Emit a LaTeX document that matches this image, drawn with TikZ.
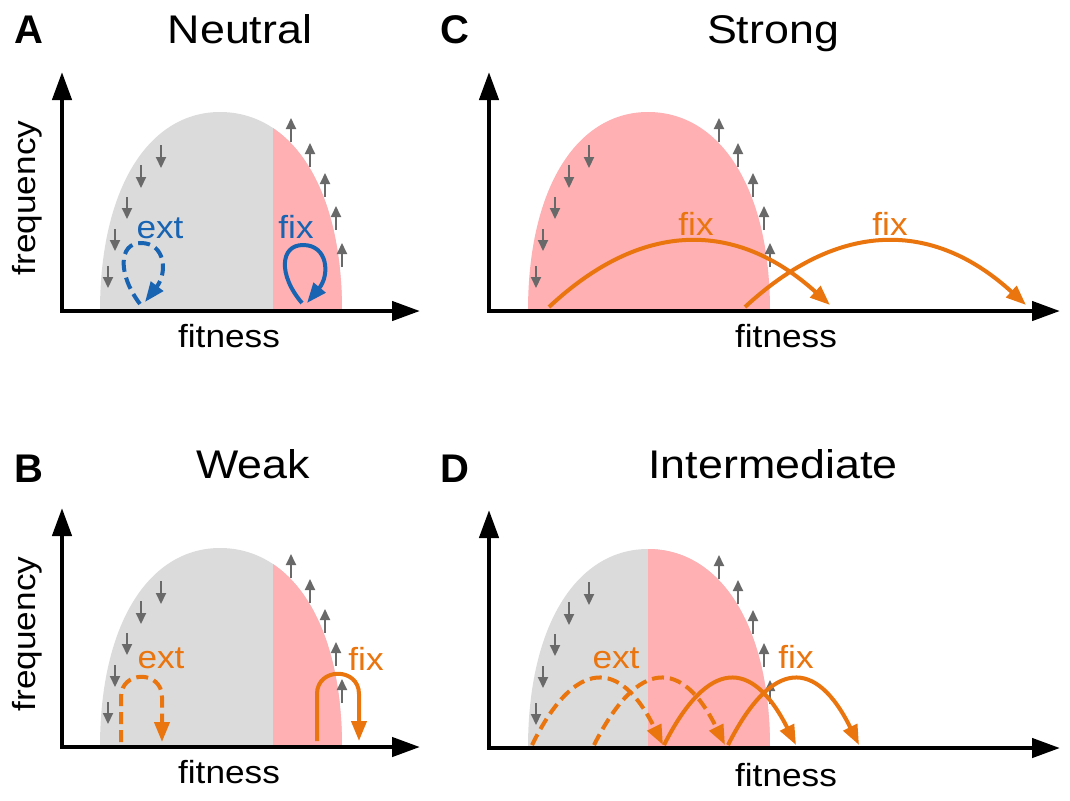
\documentclass[tikz,border=0pt]{standalone}
\usepackage{fontspec}
\setmainfont{Liberation Sans}
\usepackage{graphicx}
\usetikzlibrary{arrows.meta}
\definecolor{distgrey}{RGB}{219,219,219}
\definecolor{distpink}{RGB}{254,176,179}
\definecolor{fixblue}{RGB}{24,99,178}
\definecolor{fixorange}{RGB}{234,116,14}
\definecolor{arrgrey}{RGB}{105,105,105}
\newcommand\wtitle[1]{\scalebox{1.12}[1]{#1}}
\newcommand\wlab[1]{\scalebox{1.1}[1]{#1}}
\newcommand\distpath{(100,311) .. controls (100,186) and (150,112) .. (220,112) .. controls (291,112) and (342,186) .. (342,311) -- cycle}
\tikzset{
  axisline/.style={line width=2.2pt, line join=miter, {Triangle[length=14pt,width=9.5pt]}-{Triangle[length=14pt,width=9.5pt]}},
  smallarr/.style={arrgrey, line width=1pt, -{Triangle[length=5.5pt,width=5pt]}},
  blueloop/.style={fixblue, line width=2pt, -{Triangle[length=10pt,width=7.5pt]}},
  orarc/.style={fixorange, line width=2pt, -{Triangle[length=10pt,width=7.5pt]}},
  dasharc/.style={dash pattern=on 6pt off 3pt},
  titletext/.style={font=\fontsize{20}{24}\selectfont, anchor=base, inner sep=0pt},
  lettertext/.style={font=\fontsize{20}{24}\selectfont\bfseries, anchor=base, inner sep=0pt},
  axlabel/.style={font=\fontsize{16}{20}\selectfont, anchor=base, inner sep=0pt},
  arclabel/.style={font=\fontsize{16}{20}\selectfont, anchor=base, inner sep=0pt},
}
\begin{document}
\begin{tikzpicture}[x=0.5pt,y=-0.5pt]
\useasboundingbox (0,0) rectangle (1070,800);

% ---------- distributions and small arrows ----------
% A
\begin{scope}
  \fill[distgrey] \distpath;
  \begin{scope}\clip (273,0) rectangle (400,400); \fill[distpink] \distpath; \end{scope}
  \foreach \x/\a/\b in {161/145/168, 141/165/188, 127/197/219, 115/229/251, 108/266/288}
    \draw[smallarr] (\x,\a) -- (\x,\b);
  \foreach \x/\a/\b in {291/142/118, 310/167/143, 325/197/173, 336/230/206, 342/267/243}
    \draw[smallarr] (\x,\a) -- (\x,\b);
\end{scope}
% B
\begin{scope}[shift={(0,436)}]
  \fill[distgrey] \distpath;
  \begin{scope}\clip (273,0) rectangle (400,400); \fill[distpink] \distpath; \end{scope}
  \foreach \x/\a/\b in {161/145/168, 141/165/188, 127/197/219, 115/229/251, 108/266/288}
    \draw[smallarr] (\x,\a) -- (\x,\b);
  \foreach \x/\a/\b in {291/142/118, 310/167/143, 325/197/173, 336/230/206, 342/267/243}
    \draw[smallarr] (\x,\a) -- (\x,\b);
\end{scope}
% C
\begin{scope}[shift={(428,0)}]
  \fill[distpink] \distpath;
  \foreach \x/\a/\b in {161/145/168, 141/165/188, 127/197/219, 115/229/251, 108/266/288}
    \draw[smallarr] (\x,\a) -- (\x,\b);
  \foreach \x/\a/\b in {291/142/118, 310/167/143, 325/197/173, 336/230/206, 342/267/243}
    \draw[smallarr] (\x,\a) -- (\x,\b);
\end{scope}
% D
\begin{scope}[shift={(428,437)}]
  \fill[distgrey] \distpath;
  \begin{scope}\clip (220,0) rectangle (400,400); \fill[distpink] \distpath; \end{scope}
  \foreach \x/\a/\b in {161/145/168, 141/165/188, 127/197/219, 115/229/251, 108/266/288}
    \draw[smallarr] (\x,\a) -- (\x,\b);
  \foreach \x/\a/\b in {291/142/118, 310/167/143, 325/197/173, 336/230/206, 342/267/243}
    \draw[smallarr] (\x,\a) -- (\x,\b);
\end{scope}

% ---------- axes ----------
\coordinate (Ao) at (62,311);  \coordinate (Ay) at (62,72);  \coordinate (Ax) at (420,311);
\coordinate (Bo) at (62,747);  \coordinate (By) at (62,508); \coordinate (Bx) at (420,747);
\coordinate (Co) at (489,311); \coordinate (Cy) at (489,72); \coordinate (Cx) at (1060,311);
\coordinate (Do) at (489,748); \coordinate (Dy) at (489,510); \coordinate (Dx) at (1060,748);
\draw[axisline] (Ay) -- (Ao) -- (Ax);
\draw[axisline] (By) -- (Bo) -- (Bx);
\draw[axisline] (Cy) -- (Co) -- (Cx);
\draw[axisline] (Dy) -- (Do) -- (Dx);

% ---------- panel A arcs ----------
\coordinate (Aes) at (140,304); \coordinate (Aet) at (141,243); \coordinate (Aee) at (145,302);
\draw[blueloop, dasharc] (Aes) .. controls (118,275) and (118,243) .. (Aet) .. controls (165,243) and (168,272) .. (Aee);
\coordinate (Afs) at (302,303); \coordinate (Aft) at (303,245); \coordinate (Afe) at (307,303);
\draw[blueloop] (Afs) .. controls (278,275) and (280,245) .. (Aft) .. controls (328,245) and (330,275) .. (Afe);

% ---------- panel B arcs ----------
\coordinate (Bes) at (121,742); \coordinate (Bee) at (162,742);
\draw[orarc, dasharc] (Bes) -- (121,697) .. controls (121,670) and (162,670) .. (162,697) -- (Bee);
\coordinate (Bfs) at (317,741); \coordinate (Bfe) at (359,741);
\draw[orarc] (Bfs) -- (317,694) .. controls (317,667) and (359,667) .. (359,694) -- (Bfe);

% ---------- panel C arcs ----------
\coordinate (C1s) at (549,307); \coordinate (C1e) at (830,305);
\coordinate (C2s) at (745,307); \coordinate (C2e) at (1026,305);
\draw[orarc] (C1s) .. controls (642,220) and (736,220) .. (C1e);
\draw[orarc] (C2s) .. controls (839,220) and (933,220) .. (C2e);

% ---------- panel D arcs ----------
\coordinate (D1s) at (532,745); \coordinate (D1e) at (663,745);
\coordinate (D2s) at (594,745); \coordinate (D2e) at (725,745);
\coordinate (D3s) at (664,745); \coordinate (D3e) at (796,745);
\coordinate (D4s) at (728,745); \coordinate (D4e) at (859,745);
\draw[orarc, dasharc] (D1s) .. controls (575,658) and (620,658) .. (D1e);
\draw[orarc, dasharc] (D2s) .. controls (638,658) and (682,658) .. (D2e);
\draw[orarc] (D3s) .. controls (708,658) and (752,658) .. (D3e);
\draw[orarc] (D4s) .. controls (772,658) and (816,658) .. (D4e);

% ---------- texts ----------
\node[lettertext] (LA) at (29,43) {A};
\node[lettertext] (LB) at (29,482) {B};
\node[lettertext] (LC) at (455,43) {C};
\node[lettertext] (LD) at (455,482) {D};
\node[titletext] (TA) at (240,43) {\wtitle{Neutral}};
\node[titletext] (TB) at (253,478) {\wtitle{Weak}};
\node[titletext] (TC) at (773,43) {\wtitle{Strong}};
\node[titletext] (TD) at (773,478) {\wtitle{Intermediate}};
\node[axlabel] (FA) at (229,347) {\wlab{fitness}};
\node[axlabel] (FB) at (229,783) {\wlab{fitness}};
\node[axlabel] (FC) at (786,347) {\wlab{fitness}};
\node[axlabel] (FD) at (786,786) {\wlab{fitness}};
\node[axlabel, anchor=center, rotate=90] (QA) at (27,198) {\wlab{frequency}};
\node[axlabel, anchor=center, rotate=90] (QB) at (27,634) {\wlab{frequency}};
\node[arclabel, fixblue] (eA) at (160,238) {\wlab{ext}};
\node[arclabel, fixblue] (fA) at (296,238) {\wlab{fix}};
\node[arclabel, fixorange] (eB) at (161,668) {\wlab{ext}};
\node[arclabel, fixorange] (fB) at (366,670) {\wlab{fix}};
\node[arclabel, fixorange] (fC1) at (696,235) {\wlab{fix}};
\node[arclabel, fixorange] (fC2) at (890,235) {\wlab{fix}};
\node[arclabel, fixorange] (eD) at (616,668) {\wlab{ext}};
\node[arclabel, fixorange] (fD) at (796,668) {\wlab{fix}};
\end{tikzpicture}
\end{document}
